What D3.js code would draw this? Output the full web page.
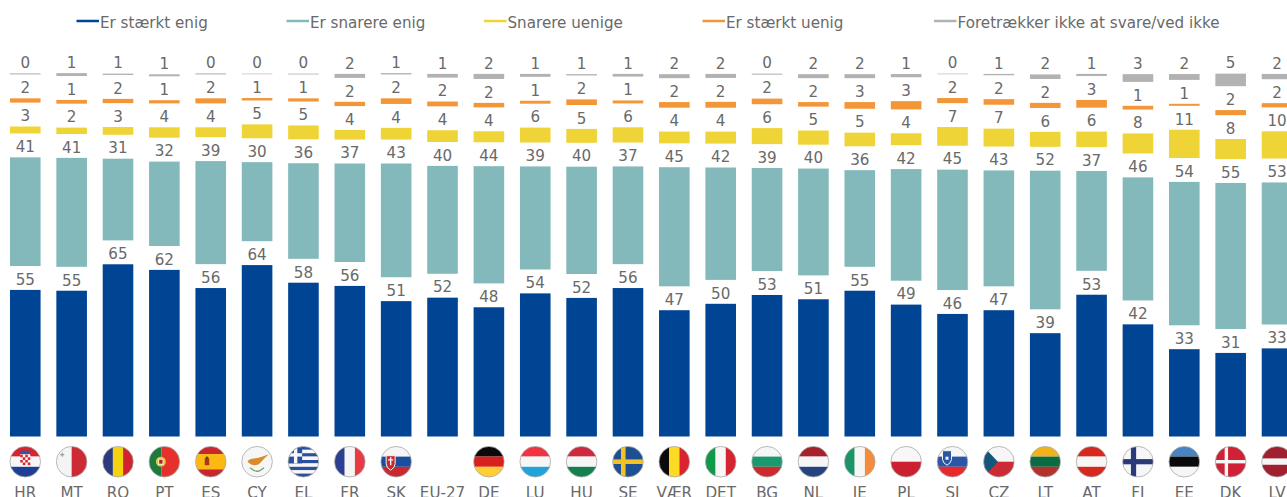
<!DOCTYPE html>
<html lang="da">
<head>
<meta charset="utf-8">
<title>Eurobarometer</title>
<script src="https://cdn.jsdelivr.net/npm/d3@7"></script>
<style>
html,body{margin:0;padding:0;background:#fff;overflow:hidden}
svg{display:block}
text{font-family:"DejaVu Sans",Verdana,sans-serif;fill:#696969}
</style>
</head>
<body>
<svg id="chart" width="1287" height="497"></svg>
<script>
const categories = ["HR","MT","RO","PT","ES","CY","EL","FR","SK","EU-27","DE","LU","HU","SE","VÆR","DET","BG","NL","IE","PL","SI","CZ","LT","AT","FI","EE","DK","LV"];
const seriesNames = ["Er stærkt enig","Er snarere enig","Snarere uenige","Er stærkt uenig","Foretrækker ikke at svare/ved ikke"];
const seriesColors = ["#004494","#84b9bb","#eed436","#f39638","#b2b2b2"];
const stronglyAgree = [54.9,54.6,64.5,62.4,55.6,64.2,57.6,56.4,50.7,52.0,48.4,53.6,51.9,55.6,47.3,49.7,53.0,51.4,54.6,49.4,45.9,47.3,38.7,53.1,42.0,32.7,31.3,33.0];
const ratherAgree = [40.7,40.8,30.6,31.6,38.6,29.6,35.8,36.9,42.6,40.4,43.9,38.6,40.2,36.6,44.6,42.1,38.6,40.0,36.2,41.8,45.1,43.4,51.9,37.4,46.1,53.7,54.7,53.2];
const ratherDisagree = [2.6,2.4,2.9,3.9,3.7,5.2,5.2,3.6,4.4,4.4,4.1,5.6,5.2,5.7,4.4,4.49,6.0,5.3,5.1,4.45,7.0,6.7,5.6,5.8,7.5,10.6,7.5,10.2];
const stronglyDisagree = [1.6,1.4,1.6,1.2,1.9,0.9,1.2,1.6,2.1,1.8,1.7,1.1,2.1,1.1,2.1,2.2,2.1,1.7,2.5,3.1,1.9,2.1,1.9,2.9,1.4,0.75,1.9,1.6];
const noAnswer = [0.4,1.1,0.5,0.75,0.4,0.2,0.3,1.5,0.5,1.4,1.9,1.1,0.5,1.0,1.5,1.5,0.4,1.5,1.5,1.2,0.2,0.5,1.7,0.8,2.9,2.2,4.7,2.0];
const allSeries = [stronglyAgree,ratherAgree,ratherDisagree,stronglyDisagree,noAnswer];
const legendTextX = [100,310,507.5,726,957.5];

// flag definitions: orientation + bands (colour, weight)
const flagBands = {
  HR:["h",["#d8232f",1],["#f6f6f6",1],["#1c3f94",1]], MT:["v",["#f4f4f4",1],["#cd2a36",1]],
  RO:["v",["#2b3a7e",1],["#f3d20f",1],["#d0232f",1]], PT:["v",["#1c7a3d",2],["#e5302c",3]],
  ES:["h",["#c8272e",1],["#fdb913",2],["#c8272e",1]], CY:["h",["#f6f6f6",1]],
  EL:["h",["#2a4fa0",1],["#f6f6f6",1],["#2a4fa0",1],["#f6f6f6",1],["#2a4fa0",1],["#f6f6f6",1],["#2a4fa0",1],["#f6f6f6",1],["#2a4fa0",1]],
  FR:["v",["#2c3e8f",1],["#f5f5f5",1],["#e83a42",1]], SK:["h",["#f5f5f5",1],["#1a4fa0",1],["#c8282e",1]],
  DE:["h",["#0a0a0a",1],["#d8211f",1],["#ffce33",1]], LU:["h",["#ef3340",1],["#f6f6f6",1],["#22a3d8",1]],
  HU:["h",["#cd2a3e",1],["#f6f6f6",1],["#14804f",1]], SE:["h",["#1e4f93",1]],
  "VÆR":["v",["#0a0a0a",1],["#fdda24",1],["#d9232e",1]], DET:["v",["#0f9a48",1],["#f6f6f6",1],["#d5232f",1]],
  BG:["h",["#f6f6f6",1],["#1b9a6e",1],["#cc2a2e",1]], NL:["h",["#a6212c",1],["#f6f6f6",1],["#26437f",1]],
  IE:["v",["#1b9468",1],["#f6f6f6",1],["#f58c3d",1]], PL:["h",["#f8f6f6",1],["#cc2030",1]],
  SI:["h",["#f6f6f6",1],["#2a57a5",1],["#e9282c",1]], CZ:["h",["#f6f6f6",1],["#cc2a35",1]],
  LT:["h",["#f3b21b",1],["#0b6b43",1],["#b5322c",1]], AT:["h",["#d5281f",1],["#f6f6f6",1],["#d5281f",1]],
  FI:["h",["#f6f6f6",1]], EE:["h",["#4a83c2",1],["#0a0a0a",1],["#f6f6f6",1]],
  DK:["h",["#cf2236",1]], LV:["h",["#a1202f",2],["#f6f6f6",1],["#a1202f",2]]
};

const svg = d3.select("#chart");
const baseline = 436.5, unitHeight = 2.67, gap = 23.9;

const x = d3.scaleBand().domain(categories).range([2.1,1300.2]).paddingInner(0.34).paddingOuter(0.17);
const y = d3.scaleLinear().domain([0,100]).range([baseline, baseline - 100*unitHeight]);

const table = categories.map((c,i)=>{
  const row = {cat:c};
  seriesNames.forEach((s,j)=>row[s]=allSeries[j][i]);
  return row;
});
const stacked = d3.stack().keys(seriesNames)(table);

// legend
const legend = svg.append("g").selectAll("g").data(seriesNames).join("g");
legend.append("line")
  .attr("x1",(d,i)=>legendTextX[i]-23.5).attr("x2",(d,i)=>legendTextX[i]-1)
  .attr("y1",21).attr("y2",21)
  .attr("stroke",(d,i)=>seriesColors[i]).attr("stroke-width",2.5);
legend.append("text").attr("x",(d,i)=>legendTextX[i]).attr("y",27.5)
  .attr("font-size",15.15).text(d=>d);

// bars and value labels
const layers = svg.append("g").selectAll("g").data(stacked).join("g").attr("fill",(d,i)=>seriesColors[i]);
layers.selectAll("rect").data(d=>d.map(v=>({v,i:d.index}))).join("rect")
  .attr("x",d=>x(d.v.data.cat))
  .attr("width",x.bandwidth())
  .attr("y",d=>y(d.v[1])-d.i*gap)
  .attr("height",d=>Math.max(y(d.v[0])-y(d.v[1]),0.6));
const labels = svg.append("g").attr("text-anchor","middle").attr("font-size",15.15);
stacked.forEach(layer=>{
  labels.selectAll(null).data(layer).join("text")
    .attr("x",d=>x(d.data.cat)+x.bandwidth()/2)
    .attr("y",d=>y(d[1])-layer.index*gap-5.2)
    .text(d=>Math.round(d[1]-d[0]));
});

// axis labels
const axis = svg.append("g").attr("transform",`translate(0,${baseline})`)
  .call(d3.axisBottom(x).tickSize(0).tickPadding(0));
axis.select(".domain").remove();
axis.selectAll("text").attr("y",61.5).attr("dy",null).attr("font-size",15.15)
  .style("font-family",'"DejaVu Sans",Verdana,sans-serif').attr("fill","#696969");

// flags
const R = 15.3, flagY = 461.7;
const defs = svg.append("defs");
defs.append("clipPath").attr("id","flagClip").append("circle").attr("r",R);
const flags = svg.append("g").selectAll("g").data(categories.filter(c=>flagBands[c])).join("g")
  .attr("transform",c=>`translate(${x(c)+x.bandwidth()/2},${flagY})`);
function box(g,x0,y0,w,h,fill){g.append("rect").attr("x",x0).attr("y",y0).attr("width",w).attr("height",h).attr("fill",fill);}
flags.each(function(c){
  const outer = d3.select(this);
  const g = outer.append("g").attr("clip-path","url(#flagClip)");
  const [o,...bands] = flagBands[c];
  const total = d3.sum(bands,b=>b[1]);
  let pos = -R;
  bands.forEach(b=>{
    const s = b[1]/total*2*R;
    if(o==="h") box(g,-R,pos,2*R,s,b[0]); else box(g,pos,-R,s,2*R,b[0]);
    pos += s;
  });
  if(c==="HR"){
    box(g,-5,-11,10,3,"#2a5aa8");
    box(g,-5,-7.5,10,11,"#f6f6f6");
    for(let r=0;r<4;r++)for(let k=0;k<4;k++) if((r+k)%2===0) box(g,-5+k*2.5,-7+r*2.6,2.5,2.6,"#d8232f");
  }
  if(c==="MT"){ box(g,-10,-9,1.2,4,"#999"); box(g,-11.4,-7.6,4,1.2,"#999"); }
  if(c==="PT"){
    g.append("circle").attr("cx",-3.5).attr("r",5).attr("fill","#e8c33a");
    box(g,-6,-3,5,6,"#f5f5f5"); box(g,-5.2,-2,3.4,4,"#b0252a");
  }
  if(c==="ES"){ box(g,-6,-3.5,4.5,7,"#a33a1e"); box(g,-5,-5,2.5,2,"#4a3a10"); }
  if(c==="CY"){
    g.append("path").attr("fill","#dc8a2a").attr("transform","scale(1.05)")
      .attr("d","M-9,0 C-8,-3 -3,-3 0,-3.5 C4,-4 8,-6 11,-7 C8,-4 6,-2 4,0 C2,3 -2,4 -5,3 C-7,2 -8,1 -9,0Z");
    g.append("path").attr("fill","none").attr("stroke","#7f9a6a").attr("stroke-width",1.3)
      .attr("d","M-7,6 Q-2,10 0,9.5 Q2,10 7,6");
  }
  if(c==="EL"){ box(g,-R,-R,14,17,"#2a4fa0"); box(g,-9.5,-R,3.4,17,"#f6f6f6"); box(g,-R,-8.5,14,3.4,"#f6f6f6"); }
  if(c==="SK"){
    g.append("path").attr("fill","#c8282e").attr("stroke","#f5f5f5").attr("stroke-width",1)
      .attr("d","M-10,-6 H-1 V2 Q-1,6 -5.5,8.5 Q-10,6 -10,2Z");
    box(g,-6.2,-4.5,1.4,8,"#f5f5f5"); box(g,-8,-2.5,5,1.3,"#f5f5f5");
  }
  if(c==="SE"){ box(g,-R,-2.3,2*R,4.6,"#f2c227"); box(g,-7,-R,4.6,2*R,"#f2c227"); }
  if(c==="SI"){
    g.append("path").attr("fill","#2a57a5").attr("stroke","#f5f5f5").attr("stroke-width",1)
      .attr("d","M-10,-11 H-1 V-2 Q-2,2 -5.5,3.5 Q-9,2 -10,-2Z");
    box(g,-7,-5,3,3,"#f5f5f5");
  }
  if(c==="CZ"){ g.append("path").attr("fill","#14567a").attr("d",`M${-R},${-R} L-1,0 L${-R},${R}Z`); }
  if(c==="FI"){ box(g,-R,-2.6,2*R,5.2,"#2a3a78"); box(g,-7,-R,5.2,2*R,"#2a3a78"); }
  if(c==="DK"){ box(g,-R,-1.7,2*R,3.4,"#f6f6f6"); box(g,-6,-R,3.4,2*R,"#f6f6f6"); }
  outer.append("circle").attr("r",R).attr("fill","none").attr("stroke","#a8a8a8").attr("stroke-width",0.8);
});
</script>
</body>
</html>
